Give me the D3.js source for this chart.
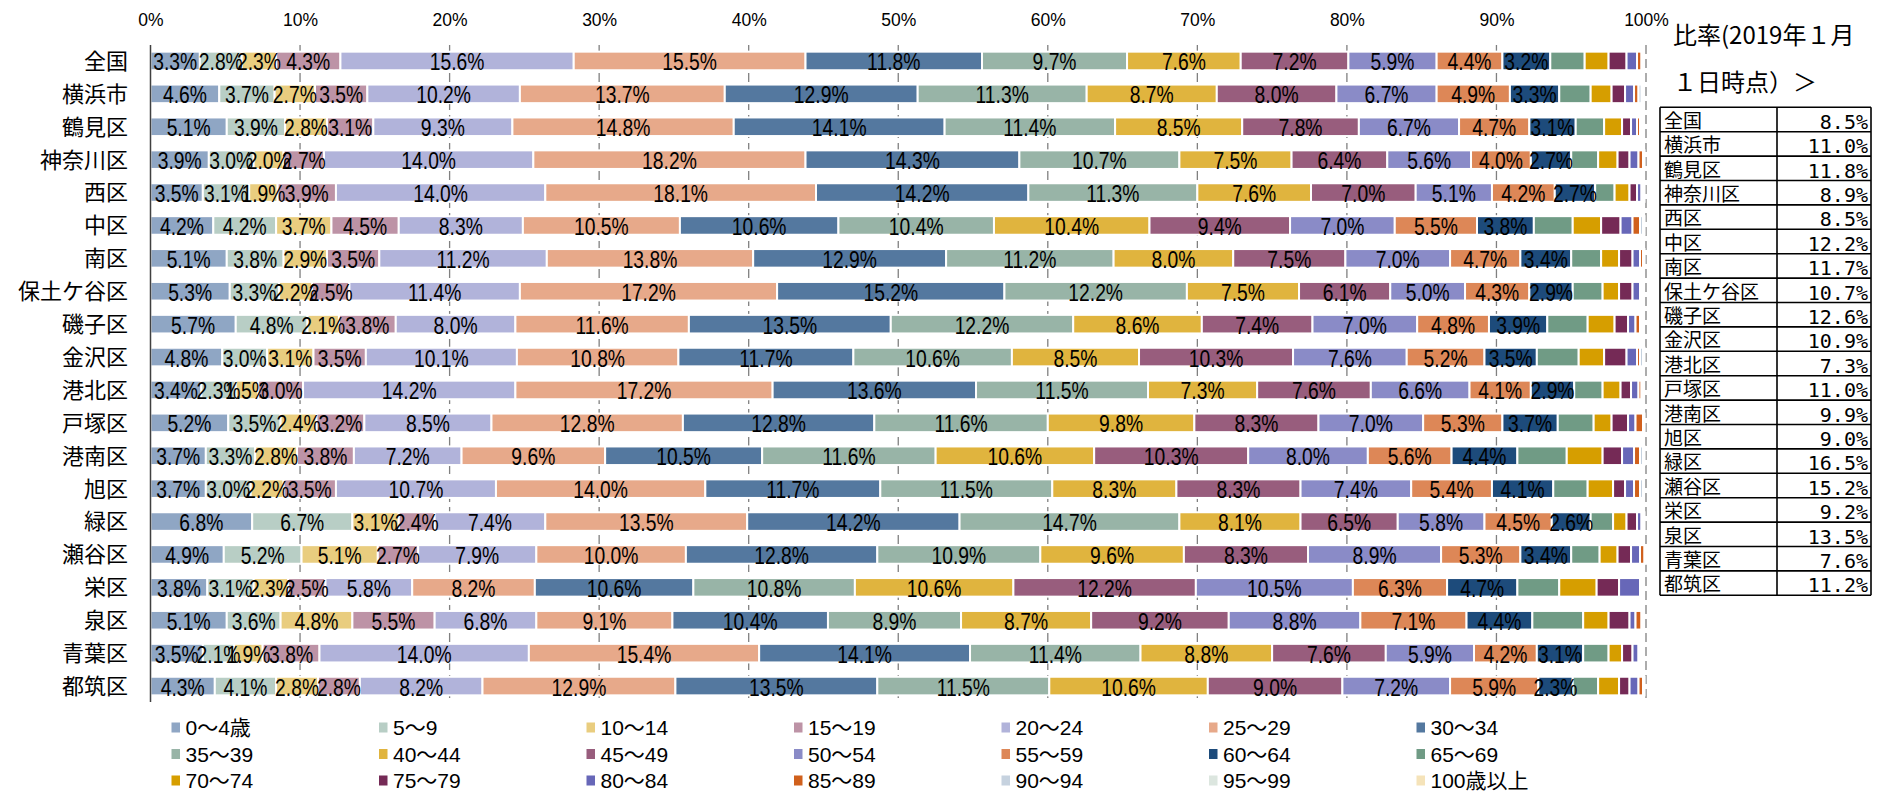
<!DOCTYPE html>
<html>
<head>
<meta charset="utf-8">
<script src="https://cdn.jsdelivr.net/npm/d3@7"></script>
<style>
  html, body { margin: 0; padding: 0; background: #fff; }
  svg { display: block; }
</style>
</head>
<body>
<svg id="chart" width="1877" height="792"></svg>
<script>
// Regions (rows, top to bottom)
const regions = ['全国', '横浜市', '鶴見区', '神奈川区', '西区', '中区', '南区', '保土ケ谷区', '磯子区', '金沢区',
  '港北区', '戸塚区', '港南区', '旭区', '緑区', '瀬谷区', '栄区', '泉区', '青葉区', '都筑区'];

// Age groups (stack order, left to right)
const ageGroups = ['0〜4歳', '5〜9', '10〜14', '15〜19', '20〜24', '25〜29', '30〜34',
  '35〜39', '40〜44', '45〜49', '50〜54', '55〜59', '60〜64', '65〜69',
  '70〜74', '75〜79', '80〜84', '85〜89', '90〜94', '95〜99', '100歳以上'];

// Share of each age group per region (%), one array per age group, in region order
const age0_4   = [3.3, 4.6, 5.1, 3.9, 3.5, 4.2, 5.1, 5.3, 5.7, 4.8, 3.4, 5.2, 3.7, 3.7, 6.8, 4.9, 3.8, 5.1, 3.5, 4.3];
const age5_9   = [2.8, 3.7, 3.9, 3.0, 3.1, 4.2, 3.8, 3.3, 4.8, 3.0, 2.3, 3.5, 3.3, 3.0, 6.7, 5.2, 3.1, 3.6, 2.1, 4.1];
const age10_14 = [2.3, 2.7, 2.8, 2.0, 1.9, 3.7, 2.9, 2.2, 2.1, 3.1, 1.5, 2.4, 2.8, 2.2, 3.1, 5.1, 2.3, 4.8, 1.9, 2.8];
const age15_19 = [4.3, 3.5, 3.1, 2.7, 3.9, 4.5, 3.5, 2.5, 3.8, 3.5, 3.0, 3.2, 3.8, 3.5, 2.4, 2.7, 2.5, 5.5, 3.8, 2.8];
const age20_24 = [15.6, 10.2, 9.3, 14.0, 14.0, 8.3, 11.2, 11.4, 8.0, 10.1, 14.2, 8.5, 7.2, 10.7, 7.4, 7.9, 5.8, 6.8, 14.0, 8.2];
const age25_29 = [15.5, 13.7, 14.8, 18.2, 18.1, 10.5, 13.8, 17.2, 11.6, 10.8, 17.2, 12.8, 9.6, 14.0, 13.5, 10.0, 8.2, 9.1, 15.4, 12.9];
const age30_34 = [11.8, 12.9, 14.1, 14.3, 14.2, 10.6, 12.9, 15.2, 13.5, 11.7, 13.6, 12.8, 10.5, 11.7, 14.2, 12.8, 10.6, 10.4, 14.1, 13.5];
const age35_39 = [9.7, 11.3, 11.4, 10.7, 11.3, 10.4, 11.2, 12.2, 12.2, 10.6, 11.5, 11.6, 11.6, 11.5, 14.7, 10.9, 10.8, 8.9, 11.4, 11.5];
const age40_44 = [7.6, 8.7, 8.5, 7.5, 7.6, 10.4, 8.0, 7.5, 8.6, 8.5, 7.3, 9.8, 10.6, 8.3, 8.1, 9.6, 10.6, 8.7, 8.8, 10.6];
const age45_49 = [7.2, 8.0, 7.8, 6.4, 7.0, 9.4, 7.5, 6.1, 7.4, 10.3, 7.6, 8.3, 10.3, 8.3, 6.5, 8.3, 12.2, 9.2, 7.6, 9.0];
const age50_54 = [5.9, 6.7, 6.7, 5.6, 5.1, 7.0, 7.0, 5.0, 7.0, 7.6, 6.6, 7.0, 8.0, 7.4, 5.8, 8.9, 10.5, 8.8, 5.9, 7.2];
const age55_59 = [4.4, 4.9, 4.7, 4.0, 4.2, 5.5, 4.7, 4.3, 4.8, 5.2, 4.1, 5.3, 5.6, 5.4, 4.5, 5.3, 6.3, 7.1, 4.2, 5.9];
const age60_64 = [3.2, 3.3, 3.1, 2.7, 2.7, 3.8, 3.4, 2.9, 3.9, 3.5, 2.9, 3.7, 4.4, 4.1, 2.6, 3.4, 4.7, 4.4, 3.1, 2.3];
const age65_69 = [2.3, 2.1, 1.9, 1.8, 1.3, 2.6, 2.0, 2.0, 2.7, 2.8, 1.9, 2.4, 3.3, 2.3, 1.5, 1.9, 2.8, 3.4, 1.7, 1.7];
const age70_74 = [1.6, 1.4, 1.2, 1.3, 1.0, 1.9, 1.2, 1.1, 1.8, 1.7, 1.2, 1.2, 2.4, 1.7, 0.9, 1.2, 2.5, 1.7, 0.9, 1.4];
const age75_79 = [1.2, 0.9, 0.6, 0.8, 0.5, 1.3, 0.9, 0.9, 0.9, 1.5, 0.7, 1.1, 1.3, 0.8, 0.7, 0.9, 1.5, 1.4, 0.7, 0.7];
const age80_84 = [0.7, 0.6, 0.4, 0.6, 0.3, 0.8, 0.5, 0.5, 0.5, 0.7, 0.5, 0.5, 0.8, 0.6, 0.3, 0.6, 1.4, 0.4, 0.4, 0.6];
const age85_89 = [0.3, 0.3, 0.2, 0.3, 0.1, 0.5, 0.2, 0.1, 0.3, 0.2, 0.2, 0.5, 0.4, 0.4, 0.1, 0.3, 0.1, 0.4, 0.1, 0.3];
const age90_94 = [0.1, 0.2, 0.1, 0.1, 0.1, 0.2, 0.1, 0.1, 0.1, 0.2, 0.1, 0.1, 0.2, 0.2, 0.1, 0.1, 0.1, 0.1, 0.1, 0.1];
const age95_99 = [0.0, 0.0, 0.0, 0.0, 0.0, 0.1, 0.0, 0.0, 0.0, 0.1, 0.0, 0.0, 0.1, 0.0, 0.0, 0.0, 0.0, 0.0, 0.0, 0.0];
const age100   = [0.0, 0.0, 0.0, 0.0, 0.0, 0.0, 0.0, 0.0, 0.0, 0.0, 0.0, 0.0, 0.0, 0.0, 0.0, 0.0, 0.0, 0.0, 0.0, 0.0];

const ageSeries = [age0_4, age5_9, age10_14, age15_19, age20_24, age25_29, age30_34,
  age35_39, age40_44, age45_49, age50_54, age55_59, age60_64, age65_69,
  age70_74, age75_79, age80_84, age85_89, age90_94, age95_99, age100];

// Number of leading age groups whose segments carry a value label
const labelledGroups = 13;

// Top axis ticks (%)
const axisTicks = [0, 10, 20, 30, 40, 50, 60, 70, 80, 90, 100];

// Side table: ratio per region (%)
const tableRatios = [8.5, 11.0, 11.8, 8.9, 8.5, 12.2, 11.7, 10.7, 12.6, 10.9, 7.3, 11.0, 9.9, 9.0, 16.5, 15.2, 9.2, 13.5, 7.6, 11.2];
const tableTitle = ['比率(2019年１月', '１日時点）＞'];

const palette = ['#8fa6c4', '#b8cec5', '#e9cd7f', '#bd93a6', '#b1b3da', '#e7a98a', '#54789f',
  '#98b4a7', '#e0b43e', '#985d7d', '#8a8bc7', '#dd8757', '#1d4b7b', '#709b85',
  '#d69e00', '#752a56', '#6767b8', '#d0601c', '#c6d2df', '#dce6df', '#f5e3b9'];

const latinFont = '"Liberation Sans", Arial, "Noto Sans CJK JP", sans-serif';
const jpFont = '"Noto Sans CJK JP", "Noto Sans", sans-serif';
const monoFont = '"DejaVu Sans Mono", "Noto Sans CJK JP", monospace';

const svg = d3.select('#chart');

const x = d3.scaleLinear().domain([0, 100]).range([150.5, 1646]);
const y = d3.scaleBand().domain(regions).range([44.5, 702.5])
  .paddingInner(0.435).paddingOuter(0.2175);
const color = d3.scaleOrdinal().domain(ageGroups).range(palette);

const rows = regions.map((r, i) => {
  const o = { region: r };
  ageGroups.forEach((g, j) => { o[g] = ageSeries[j][i]; });
  return o;
});
const layers = d3.stack().keys(ageGroups)(rows);

// Dashed vertical gridlines
svg.append('g')
  .selectAll('line')
  .data(axisTicks.slice(1))
  .join('line')
  .attr('x1', d => x(d)).attr('x2', d => x(d))
  .attr('y1', 45).attr('y2', 702)
  .attr('stroke', '#808080')
  .attr('stroke-width', 1.3)
  .attr('stroke-dasharray', '9,5');

// Top percentage axis
const topAxis = svg.append('g')
  .attr('transform', 'translate(0,26)')
  .call(d3.axisTop(x).tickValues(axisTicks).tickFormat(d => d + '%').tickSize(0).tickPadding(0));
topAxis.select('.domain').remove();
topAxis.selectAll('text')
  .attr('font-family', latinFont)
  .attr('font-size', 17.5)
  .attr('fill', '#000');

// Stacked bars
svg.append('g')
  .selectAll('g')
  .data(layers)
  .join('g')
  .attr('fill', d => color(d.key))
  .selectAll('rect')
  .data(d => d)
  .join('rect')
  .attr('x', d => x(d[0]))
  .attr('width', d => Math.max(0, x(d[1]) - x(d[0])))
  .attr('y', d => y(d.data.region))
  .attr('height', y.bandwidth())
  .attr('stroke', '#fff')
  .attr('stroke-width', 2);

// Category axis line
svg.append('line')
  .attr('x1', x(0)).attr('x2', x(0))
  .attr('y1', 45).attr('y2', 702)
  .attr('stroke', '#404040')
  .attr('stroke-width', 1.5);

// Region names
const leftAxis = svg.append('g')
  .attr('transform', 'translate(128,0)')
  .call(d3.axisLeft(y).tickSize(0).tickPadding(0));
leftAxis.select('.domain').remove();
leftAxis.selectAll('text')
  .attr('font-family', jpFont)
  .attr('font-size', 22)
  .attr('dy', '0.36em')
  .attr('fill', '#000');

// Value labels on the younger age segments
svg.append('g')
  .attr('font-family', latinFont)
  .attr('font-size', 23)
  .attr('fill', '#000')
  .attr('text-anchor', 'middle')
  .selectAll('g')
  .data(layers.slice(0, labelledGroups))
  .join('g')
  .selectAll('text')
  .data(layer => layer.map(p => ({ p, key: layer.key })))
  .join('text')
  .attr('transform', d => {
    const cx = (x(d.p[0]) + x(d.p[1])) / 2;
    const cy = y(d.p.data.region) + y.bandwidth() / 2 + 9.5;
    return `translate(${cx},${cy}) scale(0.84,1)`;
  })
  .text(d => d3.format('.1f')(d.p.data[d.key]) + '%');

// Legend: 7 columns x 3 rows
const legendCols = 7;
const legend = svg.append('g')
  .selectAll('g')
  .data(ageGroups)
  .join('g')
  .attr('transform', (d, i) => `translate(${171.5 + (i % legendCols) * 207.5},${727.5 + Math.floor(i / legendCols) * 26.5})`);
legend.append('rect')
  .attr('x', 0).attr('y', -5)
  .attr('width', 8.5).attr('height', 10)
  .attr('fill', d => color(d));
legend.append('text')
  .attr('x', 14).attr('y', 7.5)
  .attr('font-family', latinFont)
  .attr('font-size', 21)
  .attr('fill', '#000')
  .text(d => d);

// Side table title
svg.append('g')
  .selectAll('text')
  .data(tableTitle)
  .join('text')
  .attr('x', 1673)
  .attr('y', (d, i) => 44 + i * 47)
  .attr('font-family', jpFont)
  .attr('font-size', 24)
  .attr('fill', '#000')
  .text(d => d);

// Side table
const tX0 = 1660, tXDiv = 1777, tX1 = 1871, tY0 = 107.3, tRow = 24.4;
const table = svg.append('g');
const rowY = d3.scaleLinear().domain([0, regions.length]).range([tY0, tY0 + tRow * regions.length]);

table.selectAll('line.h')
  .data(d3.range(regions.length + 1))
  .join('line')
  .attr('class', 'h')
  .attr('x1', tX0).attr('x2', tX1)
  .attr('y1', d => rowY(d)).attr('y2', d => rowY(d))
  .attr('stroke', '#000').attr('stroke-width', 1.6);

table.selectAll('line.v')
  .data([tX0, tXDiv, tX1])
  .join('line')
  .attr('class', 'v')
  .attr('x1', d => d).attr('x2', d => d)
  .attr('y1', rowY(0)).attr('y2', rowY(regions.length))
  .attr('stroke', '#000').attr('stroke-width', 1.6);

table.selectAll('text.name')
  .data(regions)
  .join('text')
  .attr('class', 'name')
  .attr('x', tX0 + 4)
  .attr('y', (d, i) => rowY(i) + 20.5)
  .attr('font-family', jpFont)
  .attr('font-size', 19)
  .attr('fill', '#000')
  .text(d => d);

table.selectAll('text.val')
  .data(tableRatios)
  .join('text')
  .attr('class', 'val')
  .attr('x', tX1 - 3)
  .attr('y', (d, i) => rowY(i) + 21.5)
  .attr('text-anchor', 'end')
  .attr('font-family', monoFont)
  .attr('font-size', 20)
  .attr('fill', '#000')
  .text(d => d3.format('.1f')(d) + '%');
</script>
</body>
</html>
